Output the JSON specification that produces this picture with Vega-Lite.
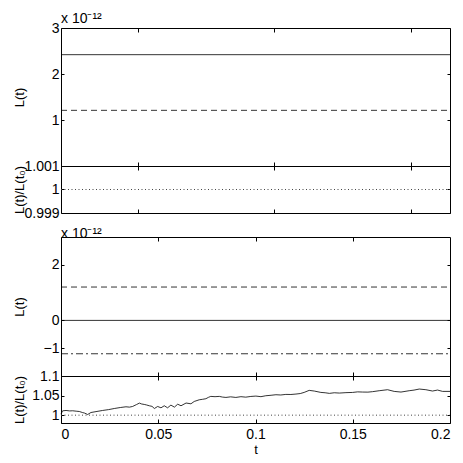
{
  "$schema": "https://vega.github.io/schema/vega-lite/v6.json",
  "background": "white",
  "autosize": {"type": "pad"},
  "padding": {"left": 12, "top": 11, "right": 5, "bottom": 5},
  "config": {
    "view": {"stroke": "black", "strokeWidth": 1},
    "font": "Liberation Sans",
    "axis": {
      "grid": false,
      "domain": false,
      "tickColor": "black",
      "tickWidth": 1,
      "labelFont": "Liberation Sans",
      "labelFontSize": 14,
      "labelColor": "black",
      "titleFont": "Liberation Sans",
      "titleFontSize": 13,
      "titleFontWeight": "normal",
      "titleColor": "black"
    },
    "title": {"font": "Liberation Sans", "fontSize": 14, "fontWeight": "normal", "color": "black", "anchor": "start", "frame": "group"}
  },
  "datasets": {
    "p1solid": [{"t": 0, "L": 2.42}, {"t": 0.2, "L": 2.42}],
    "p1dash": [{"t": 0, "L": 1.21}, {"t": 0.2, "L": 1.21}],
    "p2": [{"t": 0, "r": 1}, {"t": 0.2, "r": 1}],
    "p3dash": [{"t": 0, "L": 1.2}, {"t": 0.2, "L": 1.2}],
    "p3solid": [{"t": 0, "L": 0}, {"t": 0.2, "L": 0}],
    "p3dashdot": [{"t": 0, "L": -1.2}, {"t": 0.2, "L": -1.2}],
    "p4": [
      {"t": 0, "r": 1.0026}, {"t": 0.0008, "r": 1.011}, {"t": 0.0026, "r": 1.012}, {"t": 0.0045, "r": 1.0108},
      {"t": 0.006, "r": 1.0112}, {"t": 0.0078, "r": 1.0102}, {"t": 0.0094, "r": 1.0094}, {"t": 0.011, "r": 1.0068},
      {"t": 0.0122, "r": 1.0052}, {"t": 0.0137, "r": 1.0017}, {"t": 0.0154, "r": 1.0068}, {"t": 0.0185, "r": 1.0095},
      {"t": 0.0214, "r": 1.012}, {"t": 0.0245, "r": 1.0142}, {"t": 0.0274, "r": 1.017}, {"t": 0.0305, "r": 1.0195},
      {"t": 0.0334, "r": 1.0214}, {"t": 0.0352, "r": 1.0205}, {"t": 0.0368, "r": 1.0222}, {"t": 0.0388, "r": 1.027},
      {"t": 0.0403, "r": 1.0308}, {"t": 0.0415, "r": 1.0285}, {"t": 0.0428, "r": 1.0274}, {"t": 0.044, "r": 1.026},
      {"t": 0.0454, "r": 1.024}, {"t": 0.0468, "r": 1.0225}, {"t": 0.048, "r": 1.017}, {"t": 0.0497, "r": 1.0222},
      {"t": 0.0514, "r": 1.0188}, {"t": 0.0531, "r": 1.024}, {"t": 0.0548, "r": 1.0188}, {"t": 0.0565, "r": 1.0257},
      {"t": 0.0583, "r": 1.0205}, {"t": 0.06, "r": 1.028}, {"t": 0.0617, "r": 1.024}, {"t": 0.0643, "r": 1.031},
      {"t": 0.0668, "r": 1.029}, {"t": 0.0685, "r": 1.035}, {"t": 0.0711, "r": 1.0393}, {"t": 0.0728, "r": 1.0405},
      {"t": 0.0745, "r": 1.042}, {"t": 0.0758, "r": 1.0455}, {"t": 0.077, "r": 1.0479}, {"t": 0.0792, "r": 1.0472},
      {"t": 0.0814, "r": 1.0479}, {"t": 0.083, "r": 1.0462}, {"t": 0.0848, "r": 1.0453}, {"t": 0.0872, "r": 1.0468},
      {"t": 0.0899, "r": 1.0453}, {"t": 0.0925, "r": 1.0472}, {"t": 0.095, "r": 1.046}, {"t": 0.0976, "r": 1.0478},
      {"t": 0.1002, "r": 1.0487}, {"t": 0.1028, "r": 1.0472}, {"t": 0.1053, "r": 1.0496}, {"t": 0.108, "r": 1.0508},
      {"t": 0.1105, "r": 1.0522}, {"t": 0.113, "r": 1.0515}, {"t": 0.1156, "r": 1.053}, {"t": 0.1182, "r": 1.0528},
      {"t": 0.1208, "r": 1.0539}, {"t": 0.123, "r": 1.0552}, {"t": 0.125, "r": 1.0581}, {"t": 0.1276, "r": 1.0633},
      {"t": 0.1302, "r": 1.0616}, {"t": 0.1336, "r": 1.0581}, {"t": 0.1358, "r": 1.0572}, {"t": 0.138, "r": 1.0556},
      {"t": 0.1405, "r": 1.0572}, {"t": 0.1431, "r": 1.0564}, {"t": 0.1465, "r": 1.0575}, {"t": 0.1499, "r": 1.058},
      {"t": 0.1525, "r": 1.0595}, {"t": 0.1551, "r": 1.059}, {"t": 0.1578, "r": 1.0588}, {"t": 0.1602, "r": 1.06},
      {"t": 0.1636, "r": 1.0624}, {"t": 0.1679, "r": 1.065}, {"t": 0.1713, "r": 1.0607}, {"t": 0.1748, "r": 1.059},
      {"t": 0.179, "r": 1.0624}, {"t": 0.1815, "r": 1.064}, {"t": 0.1842, "r": 1.0667}, {"t": 0.1876, "r": 1.065},
      {"t": 0.191, "r": 1.0616}, {"t": 0.1936, "r": 1.0641}, {"t": 0.1962, "r": 1.0607}, {"t": 0.2, "r": 1.0607}
    ],
    "none": []
  },
  "spacing": 0,
  "bounds": "flush",
  "vconcat": [
    {
      "width": 389,
      "height": 138,
      "title": {"text": "x 10⁻¹²", "offset": -5},
      "layer": [
        {
          "data": {"name": "p1solid"},
          "mark": {"type": "line", "color": "black", "strokeWidth": 0.8},
          "encoding": {
            "x": {"field": "t", "type": "quantitative", "scale": {"domain": [0, 0.2], "nice": false, "zero": false},
                  "axis": {"orient": "bottom", "values": [0.0395, 0.1097, 0.18], "labels": false, "title": null, "tickSize": -4}},
            "y": {"field": "L", "type": "quantitative", "scale": {"domain": [0, 3], "nice": false},
                  "axis": {"orient": "left", "values": [1, 2, 3], "tickSize": -3, "labelPadding": 5, "title": "L(t)", "titleX": -42, "titleBaseline": "middle"}}
          }
        },
        {
          "data": {"name": "p1dash"},
          "mark": {"type": "line", "color": "black", "strokeWidth": 0.8, "strokeDash": [6, 4]},
          "encoding": {
            "x": {"field": "t", "type": "quantitative", "axis": null},
            "y": {"field": "L", "type": "quantitative", "axis": null}
          }
        },
        {
          "data": {"name": "p1solid"},
          "mark": {"type": "line", "opacity": 0},
          "encoding": {
            "x": {"field": "t", "type": "quantitative",
                  "axis": {"orient": "top", "values": [0.0395, 0.1097, 0.18], "labels": false, "title": null, "tickSize": -4}},
            "y": {"field": "L", "type": "quantitative",
                  "axis": {"orient": "right", "values": [1, 2, 3], "labels": false, "title": null, "tickSize": -3}}
          }
        }
      ],
      "resolve": {"axis": {"x": "independent", "y": "independent"}}
    },
    {
      "width": 389,
      "height": 47,
      "data": {"name": "p2"},
      "layer": [
        {
          "mark": {"type": "line", "color": "#444", "strokeWidth": 1, "strokeDash": [1, 2.5]},
          "encoding": {
            "x": {"field": "t", "type": "quantitative", "scale": {"domain": [0, 0.2], "nice": false, "zero": false},
                  "axis": {"orient": "bottom", "values": [0.0395, 0.1097, 0.18], "labels": false, "title": null, "tickSize": -4}},
            "y": {"field": "r", "type": "quantitative", "scale": {"domain": [0.999, 1.001], "nice": false, "zero": false},
                  "axis": {"orient": "left", "values": [0.999, 1, 1.001], "format": "~g", "tickSize": -3, "labelPadding": 5, "title": "L(t)/L(t₀)", "titleX": -42, "titleBaseline": "middle"}}
          }
        },
        {
          "mark": {"type": "line", "opacity": 0},
          "encoding": {
            "x": {"field": "t", "type": "quantitative",
                  "axis": {"orient": "top", "values": [0.0395, 0.1097, 0.18], "labels": false, "title": null, "tickSize": -4}},
            "y": {"field": "r", "type": "quantitative",
                  "axis": {"orient": "right", "values": [0.999, 1, 1.001], "labels": false, "title": null, "tickSize": -3}}
          }
        }
      ],
      "resolve": {"axis": {"x": "independent", "y": "independent"}}
    },
    {
      "width": 389,
      "height": 24,
      "view": {"stroke": null},
      "data": {"name": "none"},
      "mark": "point"
    },
    {
      "width": 389,
      "height": 139,
      "title": {"text": "x 10⁻¹²", "offset": -4},
      "layer": [
        {
          "data": {"name": "p3solid"},
          "mark": {"type": "line", "color": "black", "strokeWidth": 0.8},
          "encoding": {
            "x": {"field": "t", "type": "quantitative", "scale": {"domain": [0, 0.2], "nice": false, "zero": false},
                  "axis": {"orient": "bottom", "values": [0.05, 0.1, 0.15], "labels": false, "title": null, "tickSize": -4}},
            "y": {"field": "L", "type": "quantitative", "scale": {"domain": [-2, 3], "nice": false},
                  "axis": {"orient": "left", "values": [-1, 0, 2], "tickSize": -3, "labelPadding": 5, "title": "L(t)", "titleX": -42, "titleBaseline": "middle"}}
          }
        },
        {
          "data": {"name": "p3dash"},
          "mark": {"type": "line", "color": "black", "strokeWidth": 0.8, "strokeDash": [6, 4]},
          "encoding": {
            "x": {"field": "t", "type": "quantitative", "axis": null},
            "y": {"field": "L", "type": "quantitative", "axis": null}
          }
        },
        {
          "data": {"name": "p3dashdot"},
          "mark": {"type": "line", "color": "black", "strokeWidth": 0.8, "strokeDash": [7, 3, 2, 3]},
          "encoding": {
            "x": {"field": "t", "type": "quantitative", "axis": null},
            "y": {"field": "L", "type": "quantitative", "axis": null}
          }
        },
        {
          "data": {"name": "p3solid"},
          "mark": {"type": "line", "opacity": 0},
          "encoding": {
            "x": {"field": "t", "type": "quantitative",
                  "axis": {"orient": "top", "values": [0.05, 0.1, 0.15], "labels": false, "title": null, "tickSize": -4}},
            "y": {"field": "L", "type": "quantitative",
                  "axis": {"orient": "right", "values": [-1, 0, 2], "labels": false, "title": null, "tickSize": -3}}
          }
        }
      ],
      "resolve": {"axis": {"x": "independent", "y": "independent"}}
    },
    {
      "width": 389,
      "height": 47,
      "layer": [
        {
          "data": {"name": "p4"},
          "mark": {"type": "line", "color": "black", "strokeWidth": 0.8},
          "encoding": {
            "x": {"field": "t", "type": "quantitative", "scale": {"domain": [0, 0.2], "nice": false, "zero": false},
                  "axis": {"orient": "bottom", "values": [0, 0.05, 0.1, 0.15, 0.2], "format": "~g", "tickSize": -4, "labelPadding": 8, "title": "t", "titlePadding": 2}},
            "y": {"field": "r", "type": "quantitative", "scale": {"domain": [0.98, 1.1], "nice": false, "zero": false},
                  "axis": {"orient": "left", "values": [1, 1.05, 1.1], "format": "~g", "tickSize": -3, "labelPadding": 5, "title": "L(t)/L(t₀)", "titleX": -42, "titleBaseline": "middle"}}
          }
        },
        {
          "data": {"name": "p2"},
          "mark": {"type": "line", "color": "#444", "strokeWidth": 1, "strokeDash": [1, 2.5]},
          "encoding": {
            "x": {"field": "t", "type": "quantitative", "axis": null},
            "y": {"field": "r", "type": "quantitative", "axis": null}
          }
        },
        {
          "data": {"name": "p4"},
          "mark": {"type": "line", "opacity": 0},
          "encoding": {
            "x": {"field": "t", "type": "quantitative",
                  "axis": {"orient": "top", "values": [0.05, 0.1, 0.15], "labels": false, "title": null, "tickSize": -4}},
            "y": {"field": "r", "type": "quantitative",
                  "axis": {"orient": "right", "values": [1, 1.05, 1.1], "labels": false, "title": null, "tickSize": -3}}
          }
        }
      ],
      "resolve": {"axis": {"x": "independent", "y": "independent"}}
    }
  ]
}
